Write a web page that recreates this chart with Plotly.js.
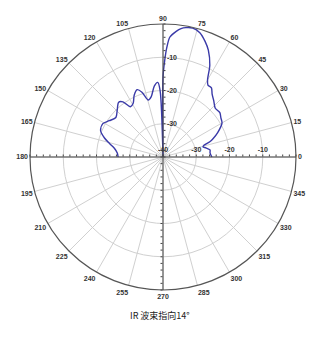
<!DOCTYPE html>
<html>
<head>
<meta charset="utf-8">
<script src="https://cdn.plot.ly/plotly-3.0.1.min.js"></script>
<style>html,body{margin:0;padding:0;background:#fff;}#chart{width:320px;height:350px;}</style>
</head>
<body>
<div id="chart"></div>
<script>
// Radiation pattern (dB) vs angle (deg)
const angles = [0, 5, 8.5, 12, 14, 16, 18, 20, 24, 30, 34, 38, 43, 48, 52, 55, 58, 60, 63, 67, 70, 73.5, 77, 80, 82, 84, 86.7, 88, 89, 90, 90.5, 91.5, 92.5, 94, 97, 101, 104.5, 108, 111, 115, 119, 123, 126, 129, 134, 140, 146, 151, 157, 162, 166, 170, 175, 180];
const gainDb = [-25.3, -25.8, -25.7, -26.8, -27.6, -27.2, -25.2, -24, -22, -19.5, -19, -18.3, -18.5, -17.2, -16, -14.6, -14.5, -13.2, -9, -5.1, -3, -1.0, -0.2, -0.5, -1, -2, -3.85, -7, -11, -16, -40, -40, -20, -17.5, -18.5, -21.5, -22.3, -19.5, -18.3, -19.5, -21.5, -22.0, -19.5, -18.8, -20.2, -21.5, -20.5, -19.3, -19.6, -21.5, -23.5, -25.2, -26.2, -26.5];
const angleTicks = [0,15,30,45,60,75,90,105,120,135,150,165,180,195,210,225,240,255,270,285,300,315,330,345];
const radialTicks = [-40,-30,-20,-10];
const verticalLabels = [-30,-20,-10];
const chartTitle = "IR 波束指向14°";

const rMin = -40, rMax = 0;
const minorVals = [];
for (let v = rMin; v <= rMax; v += 2) minorVals.push(v);
const textFor = list => minorVals.map(v => list.includes(v) ? String(v) : "");

const dom = {x: [30/320, 296/320], y: [60/350, 326/350]};
const tickFont = {family: "Liberation Sans", size: 7, color: "#333", weight: "bold"};

function axisPolar(angle, side, labels, tickangle) {
  return {
    domain: dom,
    bgcolor: "rgba(0,0,0,0)",
    radialaxis: {
      range: [rMin, rMax], angle: angle, side: side,
      tickmode: "array", tickvals: minorVals, ticktext: textFor(labels),
      ticks: "outside", ticklen: 2, tickcolor: "#444",
      showline: true, linecolor: "#444", linewidth: 1,
      showgrid: false, tickfont: tickFont, tickangle: tickangle
    },
    angularaxis: {
      visible: false, showgrid: false, showline: false, showticklabels: false, ticks: ""
    }
  };
}

const layout = {
  width: 320, height: 350,
  margin: {l: 0, r: 0, t: 0, b: 0},
  paper_bgcolor: "#fff",
  showlegend: false,
  polar: {
    domain: dom,
    bgcolor: "#fff",
    radialaxis: {
      range: [rMin, rMax], tickvals: radialTicks, showticklabels: false,
      ticks: "", showline: false, gridcolor: "#d0d0d0", gridwidth: 1
    },
    angularaxis: {
      direction: "counterclockwise", rotation: 0,
      tickmode: "array", tickvals: angleTicks, ticktext: angleTicks.map(String),
      ticks: "", showline: true, linecolor: "#555", linewidth: 1.2,
      gridcolor: "#d0d0d0", gridwidth: 1,
      tickfont: tickFont
    }
  },
  polar2: axisPolar(0, "counterclockwise", radialTicks, 0),
  polar3: axisPolar(90, "clockwise", verticalLabels, 90),
  polar4: axisPolar(180, "clockwise", [], 0),
  polar5: axisPolar(270, "clockwise", [], 0),
  annotations: [{
    text: chartTitle, xref: "paper", yref: "paper", x: 0.5, y: 26/350,
    showarrow: false, font: {family: "Noto Sans CJK SC", size: 9, color: "#222"}
  }]
};

const traces = [
  {type: "scatterpolar", subplot: "polar", r: gainDb, theta: angles, mode: "lines",
   line: {color: "#3a3aa8", width: 1.4, shape: "spline", smoothing: 0.8}, hoverinfo: "skip"},
  {type: "scatterpolar", subplot: "polar2", r: [], theta: [], mode: "lines"},
  {type: "scatterpolar", subplot: "polar3", r: [], theta: [], mode: "lines"},
  {type: "scatterpolar", subplot: "polar4", r: [], theta: [], mode: "lines"},
  {type: "scatterpolar", subplot: "polar5", r: [], theta: [], mode: "lines"}
];

Plotly.newPlot("chart", traces, layout, {staticPlot: true, displayModeBar: false});
</script>
</body>
</html>
